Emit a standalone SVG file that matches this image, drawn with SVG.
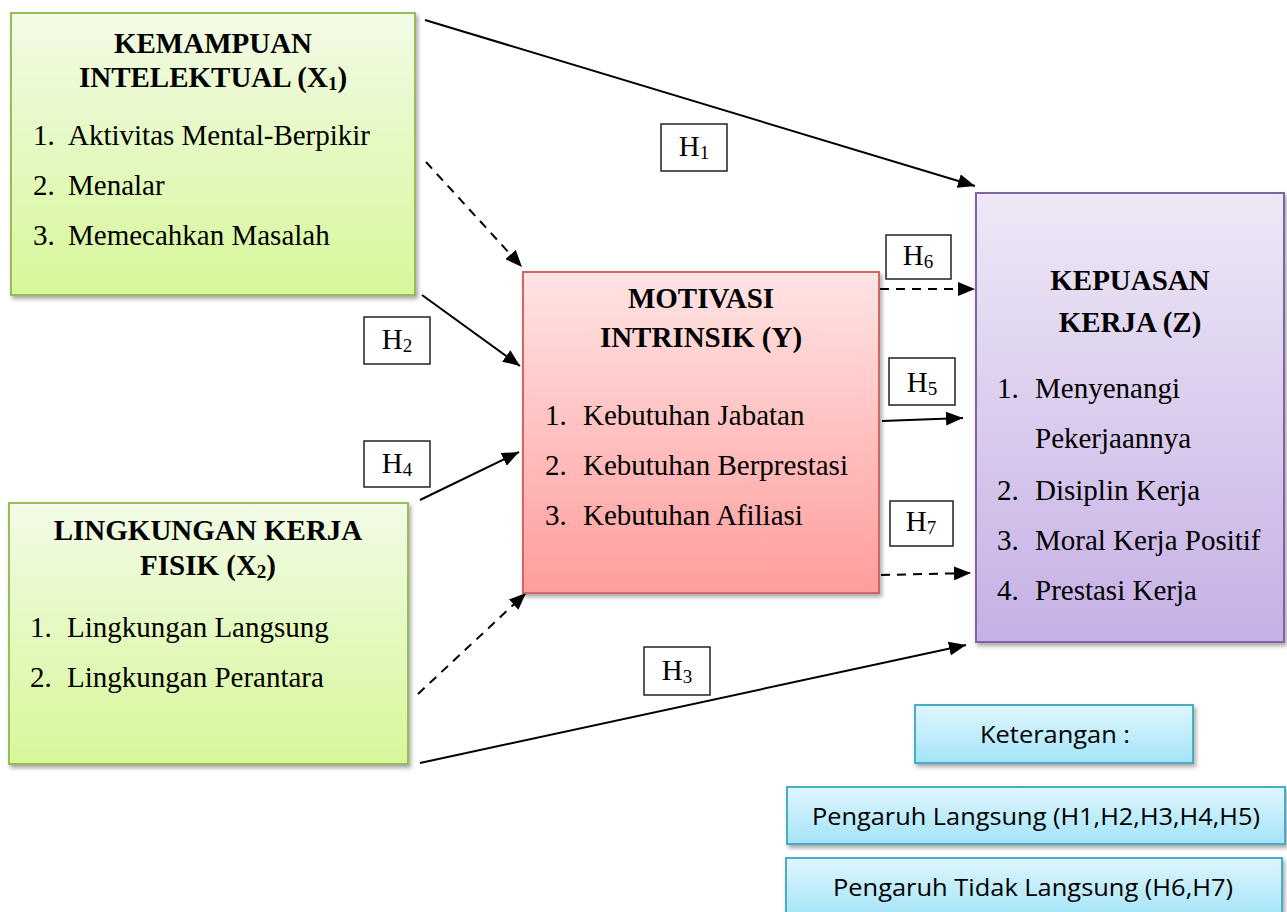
<svg xmlns="http://www.w3.org/2000/svg" width="1287" height="912" viewBox="0 0 1287 912">
<defs>
<linearGradient id="gGreen" x1="0" y1="0" x2="0" y2="1"><stop offset="0" stop-color="#f2fbe6"/><stop offset="1" stop-color="#d6f799"/></linearGradient>
<linearGradient id="gRed" x1="0" y1="0" x2="0" y2="1"><stop offset="0" stop-color="#ffe4e4"/><stop offset="1" stop-color="#ff9d9d"/></linearGradient>
<linearGradient id="gPurple" x1="0" y1="0" x2="0" y2="1"><stop offset="0" stop-color="#eee8f6"/><stop offset="1" stop-color="#c6b0e5"/></linearGradient>
<linearGradient id="gCyan" x1="0" y1="0" x2="0" y2="1"><stop offset="0" stop-color="#e0f6fd"/><stop offset="1" stop-color="#a3e4f8"/></linearGradient>
<filter id="shadow" x="-10%" y="-10%" width="125%" height="125%"><feDropShadow dx="2" dy="3" stdDeviation="2" flood-color="#000" flood-opacity="0.35"/></filter>
<marker id="arrow" markerUnits="userSpaceOnUse" markerWidth="18" markerHeight="14" refX="17" refY="7" orient="auto"><path d="M0,0 L17,7 L0,14 z" fill="#000"/></marker>
<style>
.serif{font-family:"Liberation Serif","Times New Roman",serif;fill:#000;}
.title{font-size:29px;font-weight:bold;text-anchor:middle;}
.item{font-size:29px;}
.sub{font-size:19px;}
.hbox{fill:#fff;stroke:#222;stroke-width:1.5;}
.hlab{font-family:"Liberation Serif","Times New Roman",serif;font-size:29px;text-anchor:middle;fill:#000;}
.legend{font-family:"Open Sans","Liberation Sans",sans-serif;font-size:24px;text-anchor:middle;fill:#000;}
.solid{stroke:#000;stroke-width:2;fill:none;marker-end:url(#arrow);}
.dash{stroke:#000;stroke-width:2;fill:none;stroke-dasharray:9 7;marker-end:url(#arrow);}
</style>
</defs>
<rect width="1287" height="912" fill="#fff"/>

<g id="connectors">
<line class="solid" x1="425" y1="20" x2="975" y2="186"/>
<line class="dash" x1="426" y1="162" x2="522" y2="267"/>
<line class="solid" x1="422" y1="295" x2="520" y2="366"/>
<line class="solid" x1="420" y1="500" x2="519" y2="452"/>
<line class="dash" x1="418" y1="694" x2="526" y2="593"/>
<line class="solid" x1="420" y1="763" x2="966" y2="645"/>
<line class="dash" x1="880" y1="289" x2="975" y2="289"/>
<line class="solid" x1="882" y1="421" x2="963" y2="418"/>
<line class="dash" x1="881" y1="575" x2="971" y2="573"/>
</g>

<g id="node-x1">
<rect x="11" y="13" width="404" height="282" fill="url(#gGreen)" stroke="#9bbb59" stroke-width="2" filter="url(#shadow)"/>
<text class="serif title" x="213" y="53">KEMAMPUAN</text>
<text class="serif title" x="213" y="87">INTELEKTUAL (X<tspan class="sub" dy="3">1</tspan><tspan dy="-3">)</tspan></text>
<text class="serif item" y="145"><tspan x="33">1.</tspan><tspan x="68">Aktivitas Mental-Berpikir</tspan></text>
<text class="serif item" y="195"><tspan x="33">2.</tspan><tspan x="68">Menalar</tspan></text>
<text class="serif item" y="245"><tspan x="33">3.</tspan><tspan x="68">Memecahkan Masalah</tspan></text>
</g>

<g id="node-x2">
<rect x="9" y="503" width="399" height="261" fill="url(#gGreen)" stroke="#9bbb59" stroke-width="2" filter="url(#shadow)"/>
<text class="serif title" x="208" y="540">LINGKUNGAN KERJA</text>
<text class="serif title" x="208" y="575">FISIK (X<tspan class="sub" dy="3">2</tspan><tspan dy="-3">)</tspan></text>
<text class="serif item" y="637"><tspan x="30">1.</tspan><tspan x="67">Lingkungan Langsung</tspan></text>
<text class="serif item" y="687"><tspan x="30">2.</tspan><tspan x="67">Lingkungan Perantara</tspan></text>
</g>

<g id="node-y">
<rect x="523" y="272" width="356" height="321" fill="url(#gRed)" stroke="#cf6662" stroke-width="2" filter="url(#shadow)"/>
<text class="serif title" x="701" y="308">MOTIVASI</text>
<text class="serif title" x="701" y="347">INTRINSIK (Y)</text>
<text class="serif item" y="425"><tspan x="545">1.</tspan><tspan x="583">Kebutuhan Jabatan</tspan></text>
<text class="serif item" y="475"><tspan x="545">2.</tspan><tspan x="583">Kebutuhan Berprestasi</tspan></text>
<text class="serif item" y="525"><tspan x="545">3.</tspan><tspan x="583">Kebutuhan Afiliasi</tspan></text>
</g>

<g id="node-z">
<rect x="976" y="193" width="308" height="449" fill="url(#gPurple)" stroke="#8064a2" stroke-width="2" filter="url(#shadow)"/>
<text class="serif title" x="1130" y="290">KEPUASAN</text>
<text class="serif title" x="1130" y="332">KERJA (Z)</text>
<text class="serif item" y="398"><tspan x="997">1.</tspan><tspan x="1035">Menyenangi</tspan></text>
<text class="serif item" y="448"><tspan x="1035">Pekerjaannya</tspan></text>
<text class="serif item" y="500"><tspan x="997">2.</tspan><tspan x="1035">Disiplin Kerja</tspan></text>
<text class="serif item" y="550"><tspan x="997">3.</tspan><tspan x="1035">Moral Kerja Positif</tspan></text>
<text class="serif item" y="600"><tspan x="997">4.</tspan><tspan x="1035">Prestasi Kerja</tspan></text>
</g>

<g id="label-h1"><rect class="hbox" x="661" y="124" width="66" height="47"/><text class="hlab" x="694" y="156">H<tspan class="sub" dy="3">1</tspan></text></g>
<g id="label-h2"><rect class="hbox" x="364" y="317" width="66" height="47"/><text class="hlab" x="397" y="349">H<tspan class="sub" dy="3">2</tspan></text></g>
<g id="label-h4"><rect class="hbox" x="364" y="441" width="66" height="46"/><text class="hlab" x="397" y="473">H<tspan class="sub" dy="3">4</tspan></text></g>
<g id="label-h3"><rect class="hbox" x="644" y="647" width="66" height="48"/><text class="hlab" x="677" y="680">H<tspan class="sub" dy="3">3</tspan></text></g>
<g id="label-h6"><rect class="hbox" x="886" y="235" width="65" height="44"/><text class="hlab" x="918" y="265">H<tspan class="sub" dy="3">6</tspan></text></g>
<g id="label-h5"><rect class="hbox" x="889" y="358" width="66" height="47"/><text class="hlab" x="922" y="392">H<tspan class="sub" dy="3">5</tspan></text></g>
<g id="label-h7"><rect class="hbox" x="890" y="501" width="63" height="45"/><text class="hlab" x="921" y="531">H<tspan class="sub" dy="3">7</tspan></text></g>

<g id="legend-title">
<rect x="915" y="705" width="278" height="58" fill="url(#gCyan)" stroke="#4bacc6" stroke-width="2" filter="url(#shadow)"/>
<text class="legend" x="1055" y="743" textLength="150" lengthAdjust="spacingAndGlyphs">Keterangan :</text>
</g>
<g id="legend-direct">
<rect x="787" y="787" width="498" height="57" fill="url(#gCyan)" stroke="#4bacc6" stroke-width="2" filter="url(#shadow)"/>
<text class="legend" x="1036" y="825" textLength="448" lengthAdjust="spacingAndGlyphs">Pengaruh Langsung (H1,H2,H3,H4,H5)</text>
</g>
<g id="legend-indirect">
<rect x="786" y="858" width="496" height="60" fill="url(#gCyan)" stroke="#4bacc6" stroke-width="2" filter="url(#shadow)"/>
<text class="legend" x="1033" y="896" textLength="400" lengthAdjust="spacingAndGlyphs">Pengaruh Tidak Langsung (H6,H7)</text>
</g>
</svg>
